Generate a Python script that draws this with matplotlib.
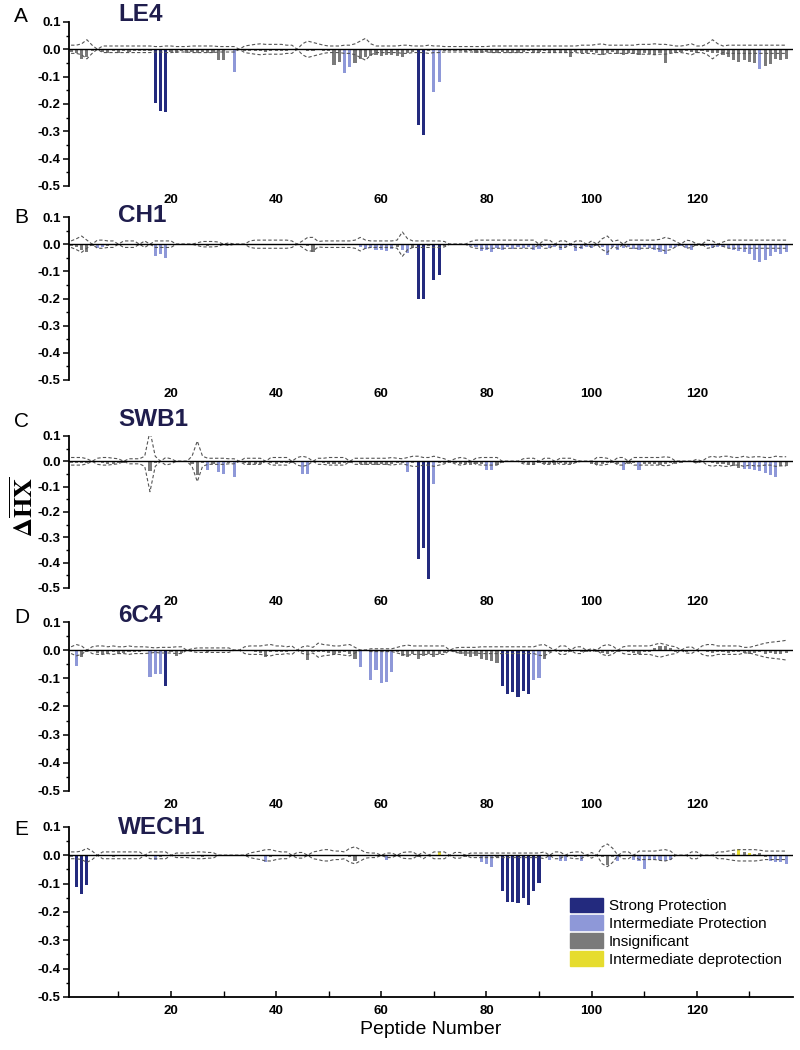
import numpy as np
import matplotlib.pyplot as plt
from matplotlib.patches import Patch
from matplotlib.ticker import MultipleLocator

plt.rcParams['font.family'] = ['Liberation Sans', 'DejaVu Sans']
plt.rcParams['mathtext.fontset'] = 'stix'

peptides = np.arange(1, 138)

names = ['LE4', 'CH1', 'SWB1', '6C4', 'WECH1']
letters = ['A', 'B', 'C', 'D', 'E']

# delta HX per peptide, one list per antibody
le4 = [-0.010, -0.012, -0.035, -0.030, -0.005, 0, -0.010, -0.012, -0.008, -0.012,
       -0.008, -0.010, -0.006, -0.008, -0.005, -0.005, -0.195, -0.226, -0.230, -0.010,
       -0.012, -0.008, -0.012, -0.010, -0.015, -0.010, -0.015, -0.012, -0.040, -0.040,
       -0.003, -0.084, -0.003, -0.005, -0.006, -0.008, -0.005, -0.010, -0.006, -0.008,
       -0.005, -0.006, -0.004, -0.003, -0.004, -0.005, -0.006, -0.004, -0.005, -0.005,
       -0.057, -0.045, -0.088, -0.063, -0.050, -0.035, -0.030, -0.025, -0.020, -0.025,
       -0.020, -0.020, -0.025, -0.030, -0.015, -0.010, -0.277, -0.313, -0.005, -0.155,
       -0.120, -0.005, -0.008, -0.006, -0.005, -0.010, -0.008, -0.012, -0.015, -0.010,
       -0.012, -0.015, -0.010, -0.012, -0.015, -0.012, -0.010, -0.008, -0.012, -0.010,
       -0.008, -0.012, -0.015, -0.010, -0.012, -0.030, -0.010, -0.012, -0.015, -0.010,
       -0.012, -0.020, -0.015, -0.010, -0.018, -0.020, -0.015, -0.018, -0.020, -0.015,
       -0.018, -0.020, -0.015, -0.050, -0.012, -0.015, -0.010, -0.008, -0.010, -0.012,
       -0.008, -0.010, -0.012, -0.015, -0.020, -0.030, -0.040, -0.045, -0.040, -0.045,
       -0.050, -0.073, -0.060, -0.055, -0.035, -0.040, -0.035]
ch1 = [-0.005, -0.010, -0.020, -0.030, -0.005, -0.015, -0.012, -0.005, -0.004, -0.003,
       -0.003, -0.004, -0.003, -0.002, -0.003, -0.002, -0.045, -0.035, -0.050, -0.003,
       -0.002, 0, 0, -0.002, -0.004, -0.003, -0.005, -0.004, -0.003, -0.003,
       -0.002, 0, 0, 0, -0.002, -0.003, -0.002, -0.002, -0.003, -0.002,
       -0.002, -0.002, -0.003, -0.002, -0.004, -0.005, -0.030, -0.004, -0.003, -0.002,
       -0.002, -0.003, -0.003, -0.002, -0.004, -0.012, -0.018, -0.015, -0.022, -0.020,
       -0.025, -0.018, -0.010, -0.020, -0.033, -0.015, -0.200, -0.200, -0.005, -0.130,
       -0.112, -0.005, -0.004, -0.003, -0.002, 0, -0.005, -0.012, -0.025, -0.020,
       -0.028, -0.015, -0.020, -0.012, -0.018, -0.010, -0.015, -0.012, -0.020, -0.018,
       -0.008, -0.015, -0.010, -0.020, -0.012, -0.008, -0.025, -0.018, -0.010, -0.015,
       -0.008, -0.012, -0.040, -0.010, -0.020, -0.015, -0.010, -0.018, -0.020, -0.012,
       -0.015, -0.020, -0.028, -0.035, -0.015, -0.010, -0.008, -0.015, -0.020, -0.005,
       -0.005, -0.008, -0.015, -0.010, -0.012, -0.015, -0.020, -0.025, -0.030, -0.035,
       -0.060, -0.065, -0.060, -0.045, -0.030, -0.035, -0.030]
swb1 = [-0.005, -0.008, -0.005, -0.005, -0.003, 0, -0.005, -0.010, -0.012, -0.008,
        -0.005, -0.004, -0.003, -0.003, -0.003, -0.040, -0.005, -0.003, -0.004, -0.003,
        -0.002, -0.002, 0, -0.010, -0.055, -0.008, -0.033, -0.010, -0.042, -0.049,
        -0.005, -0.060, -0.003, -0.005, -0.015, -0.012, -0.012, -0.004, -0.006, -0.010,
        -0.008, -0.008, -0.005, -0.004, -0.050, -0.050, -0.003, -0.003, -0.008, -0.010,
        -0.012, -0.010, -0.008, -0.005, -0.003, -0.010, -0.015, -0.012, -0.015, -0.012,
        -0.015, -0.010, -0.008, -0.005, -0.042, -0.008, -0.387, -0.342, -0.466, -0.090,
        -0.005, -0.008, -0.005, -0.005, -0.010, -0.012, -0.015, -0.010, -0.012, -0.033,
        -0.033, -0.015, -0.005, 0, 0, 0, -0.005, -0.010, -0.015, -0.008,
        -0.012, -0.010, -0.015, -0.008, -0.012, -0.010, -0.005, 0, 0, -0.010,
        -0.015, -0.012, -0.008, -0.005, -0.010, -0.035, -0.010, -0.008, -0.035, -0.012,
        -0.010, -0.012, -0.015, -0.010, -0.008, -0.010, -0.005, 0, 0, -0.005,
        -0.004, -0.003, -0.008, -0.010, -0.012, -0.015, -0.020, -0.025, -0.030, -0.030,
        -0.035, -0.040, -0.045, -0.055, -0.060, -0.020, -0.020]
c6c4 = [-0.003, -0.056, -0.025, -0.005, -0.003, -0.010, -0.015, -0.012, -0.005, -0.015,
        -0.010, -0.005, -0.008, -0.005, -0.003, -0.097, -0.085, -0.086, -0.127, -0.005,
        -0.020, -0.010, -0.003, -0.002, -0.003, -0.004, -0.005, -0.003, -0.004, -0.002,
        -0.002, 0, 0, -0.002, -0.003, -0.005, -0.010, -0.025, -0.008, -0.005,
        -0.006, -0.005, -0.004, -0.003, -0.008, -0.035, -0.005, -0.008, -0.005, -0.010,
        -0.012, -0.010, -0.008, -0.012, -0.033, -0.060, -0.003, -0.106, -0.070, -0.118,
        -0.112, -0.076, -0.005, -0.020, -0.025, -0.015, -0.030, -0.020, -0.015, -0.025,
        -0.015, -0.010, -0.003, -0.005, -0.015, -0.020, -0.025, -0.020, -0.030, -0.035,
        -0.040, -0.045, -0.127, -0.155, -0.150, -0.165, -0.144, -0.155, -0.106, -0.100,
        -0.030, -0.005, -0.003, -0.005, -0.008, -0.005, -0.003, -0.005, -0.008, -0.003,
        -0.005, -0.010, -0.015, -0.008, -0.005, -0.003, -0.008, -0.010, -0.012, -0.008,
        -0.005, 0.008, 0.015, 0.015, 0.008, -0.005, -0.003, -0.005, -0.003, -0.002,
        -0.003, -0.008, -0.010, -0.005, -0.008, -0.010, -0.008, -0.005, -0.010, -0.012,
        -0.010, -0.008, -0.012, -0.010, -0.015, -0.012, -0.010]
wech1 = [-0.005, -0.112, -0.135, -0.106, -0.003, -0.002, -0.004, -0.003, -0.005, -0.004,
         -0.003, -0.003, -0.002, -0.003, -0.002, -0.003, -0.015, -0.005, -0.004, -0.003,
         -0.002, -0.003, -0.003, -0.002, -0.003, -0.005, -0.004, -0.003, -0.002, -0.003,
         -0.002, -0.002, 0, 0, -0.002, -0.003, -0.004, -0.025, -0.005, -0.003,
         -0.002, -0.003, -0.004, -0.002, -0.003, -0.002, 0, -0.003, -0.002, -0.003,
         -0.002, -0.003, -0.004, -0.005, -0.020, -0.004, -0.003, -0.004, -0.003, -0.002,
         -0.015, -0.003, -0.002, -0.003, -0.004, -0.003, -0.005, -0.003, -0.002, -0.003,
         0.010, -0.003, -0.004, -0.003, -0.002, -0.005, -0.003, -0.004, -0.024, -0.030,
         -0.040, -0.005, -0.126, -0.165, -0.165, -0.170, -0.150, -0.176, -0.126, -0.096,
         -0.003, -0.015, -0.003, -0.020, -0.020, -0.003, -0.005, -0.020, -0.003, -0.002,
         -0.003, -0.005, -0.035, -0.005, -0.020, -0.003, -0.004, -0.015, -0.020, -0.047,
         -0.012, -0.018, -0.015, -0.020, -0.015, -0.003, -0.002, -0.003, -0.002, -0.003,
         -0.002, -0.003, -0.002, -0.002, -0.003, -0.004, 0.008, 0.024, 0.010, 0.008,
         0.006, 0.008, -0.005, -0.020, -0.025, -0.025, -0.030]

# significance thresholds (dashed envelope), one list per antibody
le4_thr = [.015, .015, .02, .035, .015, 0, .012, .012, .012, .012,
           .012, .012, .012, .012, .012, .012, .01, .01, .012, .012,
           .01, .01, .01, .012, .012, .012, .012, .012, .01, .01,
           .01, .01, 0, .012, .015, .018, .02, .018, .018, .018,
           .018, .015, .015, 0, .02, .03, .025, .02, .015, .012,
           .012, .012, .015, .015, .02, .03, .04, .02, .012, .012,
           .012, .012, .012, .015, .015, .012, .012, .012, .015, .012,
           .012, .01, .01, .01, .01, .01, .01, .01, .01, .01,
           .012, .012, .012, .012, .012, .012, .012, .012, .012, .012,
           .012, .012, .012, .012, .012, .012, .012, .015, .015, .015,
           .018, .02, .015, .015, .015, .015, .015, .015, .018, .018,
           .018, .02, .018, .018, .015, .012, .012, .015, .02, .012,
           .012, .02, .035, .02, .012, .015, .015, .015, .015, .015,
           .015, .015, .015, .015, .015, .015, .015]
ch1_thr = [.012, .02, .03, .015, 0, .015, .015, .012, .012, 0,
           .012, .012, .012, 0, .012, 0, .012, .012, .012, .012,
           0, 0, 0, 0, .005, .01, .01, .01, .008, 0,
           .005, 0, 0, 0, .012, .015, .015, .015, .015, .015,
           .015, .015, .012, 0, .012, .025, .025, .01, .012, .012,
           .012, .012, .012, .012, .015, .025, .015, .012, .012, .012,
           .012, .012, .015, .045, .02, .012, .012, .012, .012, .012,
           .012, .01, 0, 0, 0, 0, .01, .015, .015, .015,
           .015, .015, .015, .015, .015, .015, .015, .015, .015, 0,
           .015, .015, 0, .012, .012, 0, .012, .012, 0, .012,
           0, .02, .03, .01, .015, 0, .015, .015, .015, .015,
           .015, .015, .018, .025, .02, .01, 0, .015, .012, 0,
           0, .015, .012, 0, .008, .015, .015, .015, .015, .015,
           .015, .015, .015, .015, .015, .015, .015]
swb1_thr = [.015, .015, .015, .01, 0, .012, .015, .015, .012, .01,
            0, .01, .01, .01, .02, .12, .02, 0, .015, .01,
            0, 0, 0, .02, .08, .02, .012, .012, .012, .012,
            .01, .01, 0, .012, .012, .012, .012, 0, .015, .015,
            .015, .015, 0, .015, .02, .015, 0, .012, .012, .015,
            .015, .015, .015, 0, .012, .012, .012, .012, .012, .012,
            .012, .015, .012, .01, .015, .02, .02, .015, .015, .02,
            .015, .01, 0, .01, .015, .012, 0, .012, .015, .015,
            .015, .015, 0, 0, 0, 0, .01, .012, .012, 0,
            .012, .012, 0, .012, .012, .012, .005, 0, 0, 0,
            .015, .015, .012, 0, .015, .015, 0, .015, .015, .015,
            .015, .015, .015, .018, .015, 0, 0, 0, 0, .008,
            0, .015, .02, .015, .02, .02, .015, .015, .02, .015,
            .018, .018, .015, .015, .02, .018, .018]
c6c4_thr = [.012, .02, .015, 0, .012, .015, .015, .012, .015, .012,
            .012, .015, .012, .012, .012, .01, .008, .01, .01, .01,
            .012, .012, 0, .005, .008, .008, .008, .008, .008, .008,
            .008, 0, 0, .012, .015, .015, .015, .018, .02, .015,
            .015, .012, .015, 0, .012, .015, .01, .025, .02, .018,
            .015, .015, .018, .02, .01, 0, 0, .005, .005, .005,
            .005, .005, .01, .015, .018, .015, .015, .015, .015, .015,
            .015, .015, 0, .008, .01, .01, .01, .01, .012, .012,
            .012, .012, .012, .012, .012, .012, .012, .012, .012, .018,
            .02, .01, 0, .015, .015, 0, .012, .012, 0, .005,
            0, .015, .02, .015, 0, .012, .015, .015, .015, .015,
            .015, .02, .025, .02, .015, .012, 0, .01, .012, 0,
            .015, .02, .02, .015, .015, .015, .015, .015, .01, .01,
            .015, .02, .025, .028, .03, .032, .035]
wech1_thr = [.012, .012, .015, .025, .015, 0, .012, .012, .012, .012,
             .012, .012, .012, .012, 0, .012, .012, .012, .012, 0,
             .008, .008, .008, .01, .012, .012, .01, .01, 0, 0,
             0, 0, 0, 0, .008, .012, .015, .02, .02, .015,
             .012, .012, 0, .01, .01, 0, .012, .015, .02, .02,
             .015, .015, .012, .025, .03, .02, .01, .008, .008, 0,
             .008, .008, 0, .01, .012, .012, 0, .012, 0, .012,
             .012, .012, 0, .01, .01, 0, .008, .008, .008, .008,
             .008, .008, .008, .008, .008, .008, .008, .008, .008, .008,
             .012, 0, .012, .012, 0, .01, .012, .012, 0, .01,
             0, .03, .04, .025, 0, .012, .012, 0, .015, .015,
             .015, .015, .018, .02, .015, 0, 0, 0, .012, .012,
             0, 0, 0, .012, .012, .015, .018, .02, .02, .02,
             .02, .018, .015, .015, .015, .015, .015]

# peptide numbers by class (everything else is insignificant)
strong = [[17, 18, 19, 67, 68],
          [67, 68, 70, 71],
          [67, 68, 69],
          [19, 83, 84, 85, 86, 87, 88],
          [2, 3, 4, 83, 84, 85, 86, 87, 88, 89, 90]]
intermediate = [[32, 53, 54, 70, 71, 132],
                [6, 7, 17, 18, 19, 56, 57, 58, 59, 60, 61, 62, 64, 65] + list(range(77, 120)) + list(range(122, 138)),
                [27, 29, 30, 32, 45, 46, 65, 70, 80, 81, 106, 109, 129, 130, 131, 132, 133, 134, 135],
                [2, 16, 17, 18, 56, 58, 59, 60, 61, 62, 89, 90],
                [17, 38, 61, 79, 80, 81, 92, 94, 95, 98, 105, 108, 109, 110, 111, 112, 113, 114, 115,
                 134, 135, 136, 137]]
deprotection = [[], [], [], [], [71, 128, 130]]

values = [le4, ch1, swb1, c6c4, wech1]
thresholds = [le4_thr, ch1_thr, swb1_thr, c6c4_thr, wech1_thr]

c_strong = '#232a7e'
c_inter = '#8e98d8'
c_insig = '#7a7a7a'
c_deprot = '#e6dc2e'
title_color = '#1f1d4d'

# axes boxes in figure fractions: left, bottom, width, height
boxes = [(0.08625, 0.8229, 0.905, 0.1562),
         (0.08625, 0.6381, 0.905, 0.1552),
         (0.08625, 0.4400, 0.905, 0.1448),
         (0.08625, 0.2467, 0.905, 0.1609),
         (0.08625, 0.0505, 0.905, 0.1619)]
title_y = [1 - 21 / 1050, 1 - 222 / 1050, 1 - 426 / 1050, 1 - 622 / 1050, 1 - 834 / 1050]

fig = plt.figure(figsize=(8, 10.5), dpi=100)

for i in range(5):
    ax = fig.add_axes(boxes[i])
    vals = np.array(values[i])
    thr = np.array(thresholds[i])
    cols = []
    for p in peptides:
        if p in strong[i]:
            cols.append(c_strong)
        elif p in intermediate[i]:
            cols.append(c_inter)
        elif p in deprotection[i]:
            cols.append(c_deprot)
        else:
            cols.append(c_insig)
    ax.bar(peptides, vals, width=0.6, color=cols, linewidth=0)
    ax.plot(peptides, thr, ls=(0, (3, 2)), color='#555555', lw=0.8)
    ax.plot(peptides, -thr, ls=(0, (3, 2)), color='#555555', lw=0.8)
    ax.axhline(0, color='black', lw=1.0)

    ax.set_xlim(0.6, 138.3)
    ax.set_ylim(-0.5, 0.1)
    ax.yaxis.set_minor_locator(MultipleLocator(0.05))
    ax.xaxis.set_minor_locator(MultipleLocator(10))
    ax.set_xticks([20, 40, 60, 80, 100, 120])
    ax.set_yticks([0.1, 0.0, -0.1, -0.2, -0.3, -0.4, -0.5])
    ax.set_yticklabels(['0.1', '0.0', '-0.1', '-0.2', '-0.3', '-0.4', '-0.5'])
    for s in ['top', 'right']:
        ax.spines[s].set_visible(False)
    ax.spines['left'].set_linewidth(1.3)
    ax.tick_params(axis='y', which='major', direction='out', length=4, width=1.1, labelsize=9.5, pad=2)
    ax.tick_params(axis='y', which='minor', direction='out', length=2.5, width=1.0)
    for lab in ax.get_yticklabels() + ax.get_xticklabels():
        lab.set_fontweight('bold')
    if i < 4:
        ax.spines['bottom'].set_visible(False)
        ax.tick_params(axis='x', which='both', length=0, labelsize=9.5, pad=6)
    else:
        ax.spines['bottom'].set_linewidth(1.3)
        ax.tick_params(axis='x', which='major', direction='in', length=4, width=1.1, labelsize=9.5, pad=6)
        ax.tick_params(axis='x', which='minor', direction='in', length=4, width=1.0)
        ax.set_xlabel('Peptide Number', fontsize=14, labelpad=3)
        handles = [Patch(color=c_strong), Patch(color=c_inter), Patch(color=c_insig), Patch(color=c_deprot)]
        labels = ['Strong Protection', 'Intermediate Protection', 'Insignificant', 'Intermediate deprotection']
        ax.legend(handles, labels, loc='upper left', bbox_to_anchor=(0.681, 0.63), frameon=False,
                  fontsize=11, handlelength=2.2, handleheight=1.1, labelspacing=0.15,
                  handletextpad=0.35, borderpad=0)

    fig.text(0.148, title_y[i], names[i], fontsize=17.5, fontweight='bold', color=title_color,
             va='baseline', ha='left')
    fig.text(0.0175, title_y[i] - 0.001, letters[i], fontsize=15, va='baseline', ha='left')

fig.text(0.03, 1 - 507 / 1050, r'$\mathbf{\Delta\overline{HX}}$', fontsize=19, rotation=90,
         ha='center', va='center')

fig.savefig('out.png', dpi=100)
